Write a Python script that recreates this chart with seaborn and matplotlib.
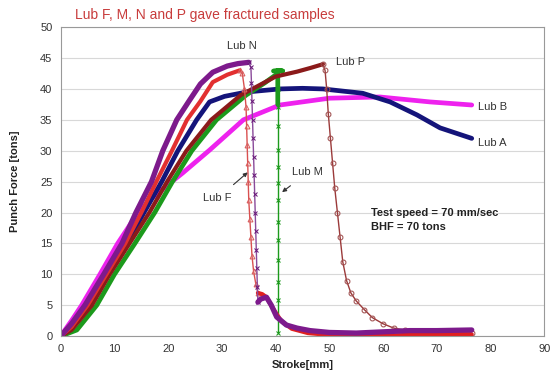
import matplotlib
matplotlib.use("Agg")
from matplotlib import pyplot as plt
import seaborn as sns

sns.set_theme(style="white")
plt.rcParams['font.family'] = ['Liberation Sans', 'DejaVu Sans']

# Lub A (navy)
lub_a_x = [0, 2, 5, 8.6, 12.3, 15.5, 18.8, 21.8, 25.3, 27.7, 30.5, 34.6, 40.8, 45, 48.8, 53, 56.2, 61.3, 66.3, 70.6, 76.5]
lub_a_y = [0, 1.5, 5, 10, 15, 20, 25, 30, 35, 37.9, 38.8, 39.5, 40, 40.1, 40.0, 39.6, 39.3, 37.9, 35.8, 33.7, 32]

# Lub B (magenta)
lub_b_x = [0, 2, 3.9, 7.3, 10.6, 14.4, 17.1, 22.7, 27.7, 34, 40.8, 50, 59.4, 68.7, 76.5]
lub_b_y = [0, 2.5, 5, 10, 15, 20, 22.5, 26.4, 30.1, 35, 37.4, 38.5, 38.7, 37.9, 37.4]

# Lub F (red) - rise, fracture drop, tail
lub_f_x = [0, 2, 5, 8.5, 12, 15, 17.8, 20.7, 23.5, 26, 28.3, 31, 33.3]
lub_f_y = [0, 1.5, 5, 10, 15, 20, 25, 30, 35, 38, 41.1, 42.3, 43]
lub_f_drop_x = [33.3, 33.8, 34.2, 34.5, 34.6, 34.7, 34.8, 34.9, 35.0, 35.2, 35.4, 35.6, 35.9, 36.3, 36.7]
lub_f_drop_y = [43, 42.5, 40, 37, 34, 31, 28, 25, 22, 19, 16, 13, 10.5, 8.5, 7]
lub_f_tail_x = [36.7, 37.5, 38.3, 39.5, 41, 43, 46, 50, 55, 60, 65, 70, 76.5]
lub_f_tail_y = [7, 6.8, 6.3, 4.5, 2.5, 1.2, 0.5, 0.2, 0.1, 0.1, 0.2, 0.3, 0.3]

# Lub M (green)
lub_m_x = [0, 3, 6.7, 10, 13.8, 17.5, 20.8, 24.4, 29, 34.5, 38, 40.4]
lub_m_y = [0, 1, 5, 10, 15, 20, 25, 30, 35, 39, 41, 42.5]
lub_m_top_x = [39.6, 40.4, 41.3, 40.4, 40.4]
lub_m_top_y = [42.9, 43.0, 42.9, 43.0, 37.5]
lub_m_drop_x = [40.4, 40.4, 40.4, 40.4, 40.4, 40.4, 40.4, 40.4, 40.4, 40.4, 40.4, 40.4, 40.4]
lub_m_drop_y = [40, 37, 34, 30.1, 27.3, 24.8, 22, 18.4, 15.5, 12.3, 8.7, 5.8, 0.5]

# Lub N (purple)
lub_n_x = [0, 2, 4.5, 8, 11.4, 14, 16.9, 19, 21.6, 24, 26, 28.3, 31, 33, 35]
lub_n_y = [0, 2, 5, 10, 15, 20, 25, 30, 35, 38.2, 40.8, 42.7, 43.7, 44.1, 44.3]
lub_n_drop_x = [35, 35.4, 35.5, 35.6, 35.7, 35.8, 35.9, 36.0, 36.1, 36.2, 36.3, 36.4, 36.5, 36.6, 36.7]
lub_n_drop_y = [44.3, 43.5, 41, 38, 35, 32, 29, 26, 23, 20, 17, 14, 11, 8, 5.5]
lub_n_tail_x = [36.7, 37.2, 38.3, 39.2, 40.2, 42, 44, 46.4, 50, 55, 60, 65, 70, 76.5]
lub_n_tail_y = [5.5, 6, 6.3, 5, 3.1, 1.8, 1.3, 0.9, 0.6, 0.5, 0.7, 0.9, 0.9, 1.0]

# Lub P (brown)
lub_p_x = [0, 2, 5.8, 9.1, 12.8, 16.5, 19.8, 23.4, 28, 33.5, 40, 44, 46.5, 48.8]
lub_p_y = [0, 1, 5, 10, 15, 20, 25, 30, 35, 39, 42, 42.8, 43.4, 44]
lub_p_drop_x = [48.8, 49.2, 49.5, 49.8, 50.2, 50.6, 51, 51.5, 52, 52.5, 53.2, 54, 55, 56.5, 58, 60, 62, 64, 66, 70, 76.5]
lub_p_drop_y = [44, 43, 40, 36, 32, 28, 24, 20, 16, 12, 9, 7, 5.7, 4.3, 3, 2, 1.3, 1, 0.8, 0.6, 0.5]

fig = plt.figure(figsize=(5.52, 3.82), dpi=100)
ax = fig.add_axes([0.11, 0.12, 0.876, 0.809])

def line(x, y, color, lw, **kw):
    sns.lineplot(x=x, y=y, sort=False, estimator=None, color=color, linewidth=lw, ax=ax, **kw)

line(lub_b_x, lub_b_y, '#ee22ee', 3.4)
line(lub_a_x, lub_a_y, '#14147a', 3.4)
line(lub_m_x, lub_m_y, '#1c9a1c', 3.4)
line(lub_m_top_x, lub_m_top_y, '#1c9a1c', 3.4)
line(lub_m_drop_x, lub_m_drop_y, '#1c9a1c', 1.0, marker='x', markersize=3.5, markeredgecolor='#1c9a1c')
line(lub_p_x, lub_p_y, '#8b1a1a', 3.0)
line(lub_p_drop_x, lub_p_drop_y, '#9b3a3a', 1.0, marker='o', markersize=3.5,
     markerfacecolor='none', markeredgecolor='#a05050')
line(lub_f_x, lub_f_y, '#e23030', 3.0)
line(lub_f_drop_x, lub_f_drop_y, '#d95050', 1.0, marker='^', markersize=3.5,
     markerfacecolor='none', markeredgecolor='#d96060')
line(lub_f_tail_x, lub_f_tail_y, '#e02020', 3.0)
line(lub_n_x, lub_n_y, '#7d1a8c', 3.8)
line(lub_n_drop_x, lub_n_drop_y, '#8a4a9a', 1.0, marker='x', markersize=3.5, markeredgecolor='#6a1a7a')
line(lub_n_tail_x, lub_n_tail_y, '#7d1a8c', 3.8)

ax.set_xlim(0, 90)
ax.set_ylim(0, 50)
ax.set_xticks(range(0, 91, 10))
ax.set_yticks(range(0, 51, 5))
ax.yaxis.grid(True, color='#d8d8d8', linewidth=0.8)
ax.set_axisbelow(True)
for s in ax.spines.values():
    s.set_color('#999999')
    s.set_linewidth(0.8)
ax.tick_params(axis='both', labelsize=8, colors='#333333', length=0, pad=6)
ax.tick_params(axis='x', length=3, direction='in', color='#bbbbbb')

ax.set_xlabel('Stroke[mm]', fontsize=8, fontweight='bold', color='#222222', labelpad=4)
ax.set_ylabel('Punch Force [tons]', fontsize=8, fontweight='bold', color='#222222')
ax.yaxis.set_label_coords(-0.085, 0.5)

fig.text(0.136, 0.961, 'Lub F, M, N and P gave fractured samples', fontsize=10,
         color='#c83c3c', va='center', ha='left')

lab = dict(fontsize=8, color='#333333', va='center')
ax.text(33.8, 46.9, 'Lub N', ha='center', **lab)
ax.text(51.3, 44.3, 'Lub P', ha='left', **lab)
ax.text(77.7, 37.0, 'Lub B', ha='left', **lab)
ax.text(77.7, 31.2, 'Lub A', ha='left', **lab)
ax.annotate('Lub M', xy=(41.2, 23.3), xytext=(46.0, 26.5), ha='center', va='center',
            fontsize=8, color='#333333',
            arrowprops=dict(arrowstyle='-|>', color='#333333', lw=0.8, mutation_scale=6,
                            shrinkA=6, shrinkB=0))
ax.annotate('Lub F', xy=(34.8, 26.5), xytext=(29.2, 22.3), ha='center', va='center',
            fontsize=8, color='#333333',
            arrowprops=dict(arrowstyle='-|>', color='#333333', lw=0.8, mutation_scale=6,
                            shrinkA=6, shrinkB=0))
ax.text(57.7, 19.9, 'Test speed = 70 mm/sec', ha='left', va='center', fontsize=8,
        fontweight='bold', color='#222222')
ax.text(57.7, 17.6, 'BHF = 70 tons', ha='left', va='center', fontsize=8,
        fontweight='bold', color='#222222')

plt.savefig('out.png', dpi=100)
